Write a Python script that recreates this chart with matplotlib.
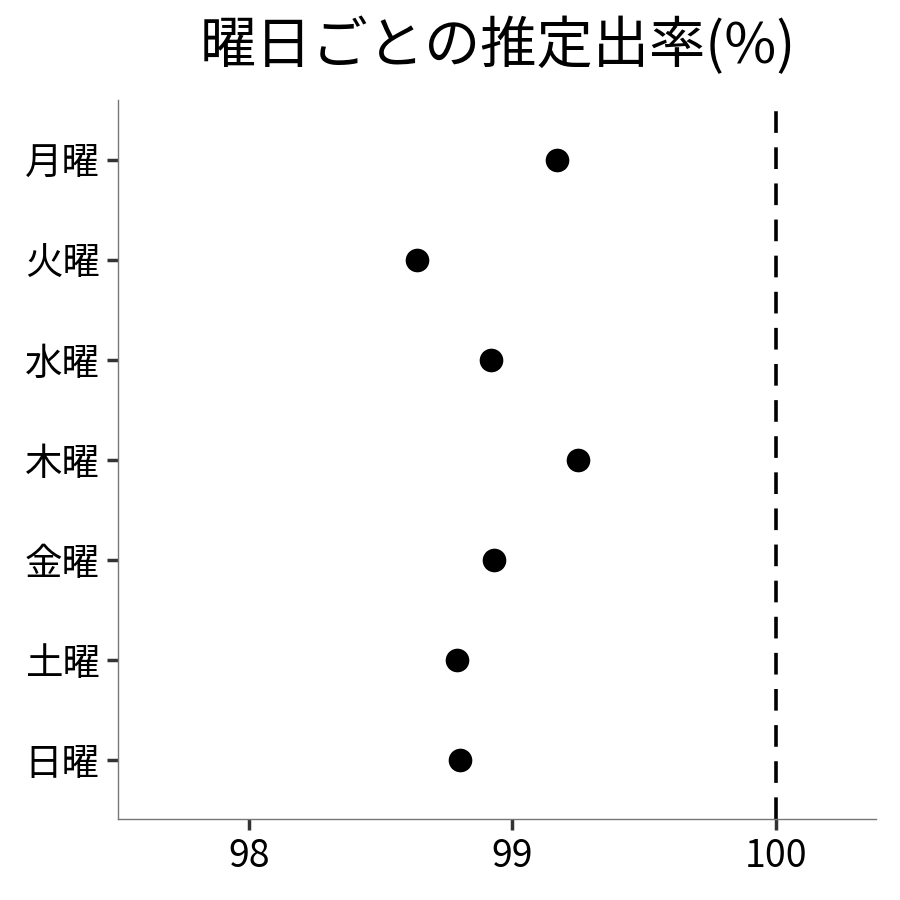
import matplotlib
matplotlib.use("Agg")
import matplotlib.pyplot as plt

plt.rcParams['font.family'] = ['Noto Sans CJK JP', 'DejaVu Sans']

days = ["月曜", "火曜", "水曜", "木曜", "金曜", "土曜", "日曜"]
rates = [99.17, 98.64, 98.92, 99.25, 98.93, 98.79, 98.80]
x_ticks = [98, 99, 100]
ref_line = 100
title = "曜日ごとの推定出率(%)"

fig = plt.figure(figsize=(9, 9), dpi=100)
ax = fig.add_axes([0.131, 0.09, 0.842, 0.799])

ypos = list(range(len(days), 0, -1))
ax.scatter(rates, ypos, s=290, color='black', zorder=3, linewidths=0)
ax.axvline(ref_line, color='black', linewidth=2.6, dashes=(6, 4), zorder=2)

ax.set_xlim(97.503, 100.38)
ax.set_ylim(0.41, 7.6)
ax.set_xticks(x_ticks)
ax.set_xticklabels([str(t) for t in x_ticks])
ax.set_yticks(ypos)
ax.set_yticklabels(days)

for s in ['top', 'right']:
    ax.spines[s].set_visible(False)
for s in ['left', 'bottom']:
    ax.spines[s].set_color('#777777')
    ax.spines[s].set_linewidth(1.0)

ax.tick_params(axis='both', colors='#333333', length=8, width=2.5,
               labelcolor='black', labelsize=27, pad=5)

fig.suptitle(title, fontsize=40.5, y=0.98, x=0.553, va='top')

fig.savefig("out.png", dpi=100, facecolor='white')
